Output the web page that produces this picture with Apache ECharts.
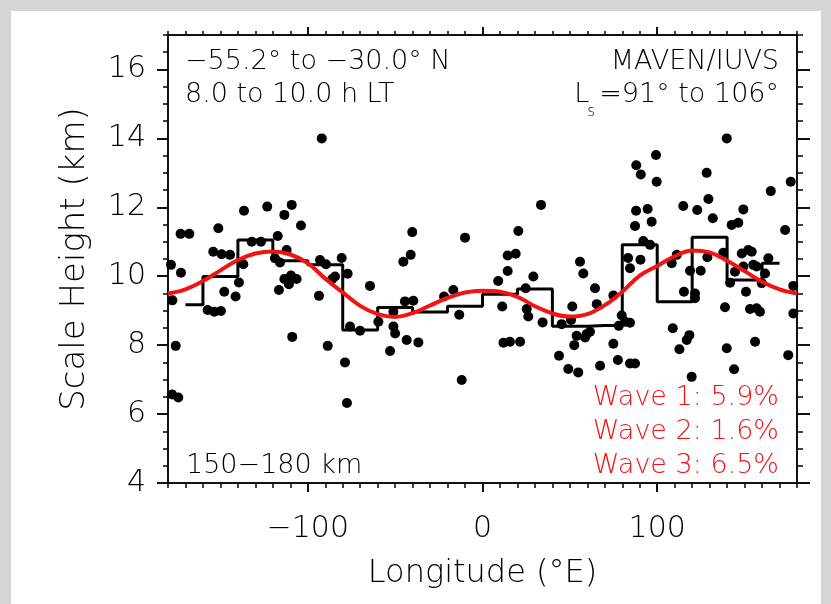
<!DOCTYPE html>
<html><head><meta charset="utf-8">
<script src="https://cdn.jsdelivr.net/npm/echarts@6/dist/echarts.min.js"></script>
<style>html,body{margin:0;padding:0;background:#fff}#c{width:831px;height:604px}</style>
</head><body><div id="c"></div><script>
// ---- data ----
const observations = [
 [-178.3,10.33],[-172.6,10.10],[-177.5,9.30],[-175.6,7.98],[-177.6,6.57],[-174.1,6.48],[-172.8,11.23],[-167.8,11.23],
 [-157.3,9.02],[-153.5,8.97],[-149.7,8.99],[-154.1,10.71],[-149.3,10.64],[-144.5,10.62],[-151.2,11.39],
 [-147.8,9.55],[-141.3,9.41],[-139.4,9.82],[-136.9,10.35],
 [-136.5,11.90],[-132.1,11.0],[-126.8,11.0],[-123.2,12.02],[-117.2,11.17],[-113.4,11.78],[-109.2,12.07],[-103.9,11.47],
 [-112.1,10.76],[-118.8,10.52],[-115.9,10.40],[-116.5,9.60],
 [-113.4,9.92],[-109.6,10.02],[-106.4,9.92],[-110.8,9.77],[-108.9,8.24],[-92.0,14.0],
 [-93.0,10.47],[-89.6,10.35],[-93.6,9.43],[-88.6,7.98],[-86.0,9.92],[-84.4,9.99],
 [-80.6,10.53],[-77.2,10.07],[-78.7,7.50],[-77.6,6.32],[-75.8,8.54],[-70.1,8.42],[-64.4,9.72],[-59.6,8.68],
 [-51.0,8.97],[-51.0,8.54],[-50.0,8.34],[-52.9,7.83],[-44.4,9.27],[-39.6,9.29],[-45.3,10.42],[-41.1,10.62],[-40.2,11.28],[-43.4,8.15],[-36.7,8.08],
 [-22.0,9.41],[-16.7,9.60],[-13.3,8.88],[-11.9,6.99],[-10.0,11.12],
 [9.0,9.86],[11.3,9.12],[12.0,8.07],[15.7,8.10],[21.5,8.10],[14.4,10.15],[14.4,10.60],[19.0,10.65],[20.5,11.31],[24.7,9.65],[25.3,9.05],[26.2,8.83],[29.1,9.99],[33.5,12.07],[34.4,8.66],
 [43.8,7.69],[45.3,8.61],[49.1,7.31],[50.7,8.73],[51.4,9.12],[52.5,8.0],[53.9,8.27],[54.8,7.21],[55.8,10.42],[57.7,10.08],[58.7,8.22],[59.6,8.32],[61.5,8.39],[64.4,9.65],[65.4,9.19],[67.3,7.40],[74.9,9.44],[74.9,8.04],[77.5,7.57],[78.0,8.56],[79.7,8.86],[81.6,8.68],[84.4,8.65],[84.4,7.47],[87.3,7.47],
 [83.3,10.53],[84.4,10.23],[90.4,10.48],[92.0,11.02],[95.9,10.91],[87.3,11.46],[96.8,11.58],[87.9,11.90],[94.5,11.95],[88.0,13.22],[90.6,12.95],[99.3,13.52],[99.7,12.74],
 [108.3,10.38],[111.2,10.62],[108.9,8.49],[112.7,7.88],[114.9,12.04],[115.3,9.55],[116.9,8.15],[118.4,8.29],[118.8,10.16],[119.7,7.08],[121.6,9.50],[121.6,9.36],[122.9,11.92],[124.9,10.16],[128.3,13.0],[128.7,10.55],[129.3,12.24],[131.8,11.68],
 [137.8,10.68],[138.8,9.10],[139.8,14.0],[139.8,7.91],[141.7,9.81],[142.6,11.49],[144.0,7.30],[144.5,10.13],[146.4,11.55],[148.4,10.66],[149.3,11.94],[149.3,10.28],[150.8,9.55],[152.1,10.76],[153.1,9.05],[154.1,10.71],[155.0,10.33],[156.0,8.10],[156.9,10.28],[156.9,9.07],[158.8,8.97],[159.8,9.80],[161.7,10.08],[163.6,10.52],[165.0,12.47],[173.2,11.34],[175.0,7.71],[176.4,12.74],[177.9,9.72],[177.9,8.92]
];
const binCenters = [-170,-150,-130,-110,-90,-70,-50,-30,-10,10,30,50,70,90,110,130,150,170];
const binMeans   = [9.17,9.99,11.05,10.45,10.33,8.44,9.09,8.96,9.13,9.48,9.63,8.55,8.57,10.91,9.26,11.13,9.89,10.38];
const fitLon = [-180,-170,-160,-150,-140,-130,-120,-110,-100,-90,-80,-70,-60,-50,-40,-30,-20,-10,0,10,20,30,40,50,60,70,80,90,100,110,120,130,140,150,160,170,180];
const fitVal = [9.50,9.62,9.86,10.17,10.47,10.66,10.72,10.63,10.38,9.93,9.53,9.14,8.90,8.82,8.93,9.15,9.37,9.53,9.58,9.55,9.40,9.13,8.92,8.83,8.90,9.16,9.55,10.02,10.30,10.58,10.75,10.69,10.45,10.15,9.84,9.62,9.50];
const xMajorTicks = [-100,0,100];
const yMajorTicks = [4,6,8,10,12,14,16];
const waveLabels = ['Wave 1: 5.9%','Wave 2: 1.6%','Wave 3: 6.5%'];
const lsText = '=91\u00b0 to 106\u00b0';

// ---- chart ----
const FONT = '"DejaVu Sans", "Liberation Sans", sans-serif';
const FW = 200;
const INK = '#000000';
const RED = '#f01414';
const ANN = 27;
const gridBox = {left:168, right:34, top:35, bottom:121, containLabel:false, outerBoundsMode:'none'};
const fmt = v => v < 0 ? '\u2212' + Math.abs(v) : String(v);
const lineS = {color:'#111', width:2};

function majorX(pos, showLabel, len){
  return {type:'value', gridIndex:0, position:pos, min:-180, max:180, interval:20,
    axisLine:{show:true, onZero:false, lineStyle:lineS},
    axisTick:{show:true, inside:false, length:len, customValues:xMajorTicks, lineStyle:{color:'#111',width:2}},
    axisLabel:{show:showLabel, customValues:xMajorTicks, formatter:fmt, fontSize:30, fontWeight:FW, fontFamily:FONT, color:INK, margin:31},
    splitLine:{show:false}};
}
function minorX(pos, len){
  return {type:'value', gridIndex:1, position:pos, min:-180, max:180, interval:10,
    axisLine:{show:false, onZero:false}, axisTick:{show:true, inside:false, length:len, lineStyle:{color:'#111',width:1.6}},
    axisLabel:{show:false}, splitLine:{show:false}};
}
function majorY(pos, showLabel, len){
  return {type:'value', gridIndex:0, position:pos, min:4, max:17, interval:2,
    axisLine:{show:true, onZero:false, lineStyle:lineS},
    axisTick:{show:true, inside:false, length:len, customValues:yMajorTicks, lineStyle:{color:'#111',width:2}},
    axisLabel:{show:showLabel, customValues:yMajorTicks, fontSize:30, fontWeight:FW, fontFamily:FONT, color:INK, margin:22},
    splitLine:{show:false}};
}
function minorY(pos, len){
  return {type:'value', gridIndex:1, position:pos, min:4, max:17, interval:0.5,
    axisLine:{show:false, onZero:false}, axisTick:{show:true, inside:false, length:len, lineStyle:{color:'#111',width:1.6}},
    axisLabel:{show:false}, splitLine:{show:false}};
}

const xb = majorX('bottom', true, 9);
Object.assign(xb, {name:'Longitude (\u00b0E)', nameLocation:'middle', nameGap:75,
  nameTextStyle:{fontSize:32, fontWeight:FW, fontFamily:FONT, color:INK}});
const yl = majorY('left', true, 11);
Object.assign(yl, {name:'Scale Height (km)', nameLocation:'middle', nameGap:76, nameRotate:90,
  nameTextStyle:{fontSize:34, fontWeight:FW, fontFamily:FONT, color:INK}});

function txt(x, y, s, align, color, size){
  return {type:'text', x:x, y:y, silent:true, z:100,
    style:{text:s, fill:color||INK, font: FW + ' ' + (size||ANN)+'px ' + FONT, align:align||'left', verticalAlign:'middle'}};
}
const mctx = document.createElement('canvas').getContext('2d');
mctx.font = FW + ' ' + ANN + 'px ' + FONT;
const eqStart = 779 - mctx.measureText(lsText).width;

const option = {
  animation:false,
  backgroundColor:'#ffffff',
  grid:[Object.assign({}, gridBox), Object.assign({}, gridBox)],
  xAxis:[xb, majorX('top', false, 8), minorX('bottom',5), minorX('top',4)],
  yAxis:[yl, majorY('right', false, 13), minorY('left',5), minorY('right',6)],
  series:[
    {type:'scatter', xAxisIndex:0, yAxisIndex:0, data:observations, symbol:'circle', symbolSize:10,
     itemStyle:{color:'#000', opacity:1}, z:2, silent:true},
    {type:'line', xAxisIndex:0, yAxisIndex:0, data:binCenters.map((c,i)=>[c,binMeans[i]]), step:'middle',
     showSymbol:false, lineStyle:{color:'#000', width:3}, z:3, silent:true},
    {type:'line', xAxisIndex:0, yAxisIndex:0, data:fitLon.map((c,i)=>[c,fitVal[i]]), smooth:0.4,
     showSymbol:false, lineStyle:{color:RED, width:4}, z:4, silent:true}
  ],
  graphic:[
    {type:'rect', shape:{x:0,y:0,width:831,height:11}, style:{fill:'#d6d6d6'}, silent:true},
    {type:'rect', shape:{x:0,y:0,width:11,height:604}, style:{fill:'#d6d6d6'}, silent:true},
    {type:'rect', shape:{x:821,y:0,width:10,height:604}, style:{fill:'#d6d6d6'}, silent:true},
    txt(185, 62, '\u221255.2\u00b0 to \u221230.0\u00b0 N', 'left'),
    txt(185, 95, '8.0 to 10.0 h LT', 'left'),
    txt(779, 62, 'MAVEN/IUVS', 'right'),
    txt(779, 95, lsText, 'right'),
    txt(eqStart - 10, 95, 'L', 'right'),
    txt(eqStart - 12, 112, 's', 'left', INK, 15),
    txt(186, 466, '150\u2212180 km', 'left'),
    txt(779, 398, waveLabels[0], 'right', RED),
    txt(779, 432, waveLabels[1], 'right', RED),
    txt(779, 466, waveLabels[2], 'right', RED)
  ]
};
const chart = echarts.init(document.getElementById('c'), null, {renderer:'canvas'});
chart.setOption(option);
</script></body></html>
